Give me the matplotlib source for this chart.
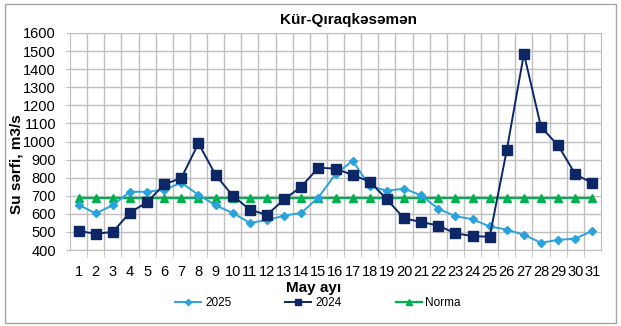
import matplotlib.pyplot as plt
import numpy as np

plt.rcParams['font.family'] = ['Liberation Sans', 'DejaVu Sans']

days = list(range(1, 32))
flow_2025 = [650, 602, 648, 722, 722, 733, 772, 705, 647, 605, 550, 565, 590, 605, 690,
             820, 893, 755, 727, 740, 702, 628, 587, 570, 530, 513, 484, 440, 456, 463, 506]
flow_2024 = [505, 490, 500, 607, 664, 763, 798, 990, 815, 700, 623, 594, 680, 750, 855,
             850, 815, 778, 680, 575, 555, 535, 492, 477, 473, 953, 1485, 1080, 978, 819, 770]
norma = [685] * 31
y_ticks = list(range(400, 1700, 100))

W, H = 621, 326
fig = plt.figure(figsize=(W / 100, H / 100), dpi=100)

# outer frame around the whole chart
fig.patches.append(plt.Rectangle((5 / W, 3 / H), 611 / W, 319 / H, transform=fig.transFigure,
                                 fill=False, edgecolor='#A6A6A6', linewidth=1))

ax = fig.add_axes([70 / W, (H - 250) / H, 531 / W, 217 / H])

grid_c = '#BFBFBF'
ax.plot(days, norma, color='#00B050', marker='^', markersize=6, linewidth=1.6, label='Norma', zorder=3)
ax.plot(days, flow_2025, color='#2AA3DD', marker='D', markersize=4.5, linewidth=1.4, label='2025', zorder=4)
ax.plot(days, flow_2024, color='#0D2766', marker='s', markersize=6.5, linewidth=1.4, label='2024', zorder=5)

ax.set_xlim(0.5, 31.5)
ax.set_ylim(400, 1600)
ax.set_yticks(y_ticks)
ax.set_xticks(days)
ax.set_xticklabels([str(d) for d in days])
ax.set_xticks(np.arange(1.5, 31, 1), minor=True)

ax.grid(True, axis='y', color=grid_c, linewidth=1)
ax.grid(True, axis='x', which='minor', color=grid_c, linewidth=1)
ax.set_axisbelow(True)

ax.tick_params(axis='x', which='major', length=0, pad=11, labelsize=10.5)
ax.tick_params(axis='x', which='minor', length=5, color=grid_c, direction='out')
ax.tick_params(axis='y', length=3, color=grid_c, pad=7, labelsize=10.5)

for side in ['left', 'bottom', 'right']:
    ax.spines[side].set_color(grid_c)
ax.spines['top'].set_visible(False)

fig.text(348 / W, (H - 20) / H, 'Kür-Qıraqkəsəmən', ha='center', va='center',
         fontsize=11, fontweight='bold')
fig.text(17 / W, (H - 164) / H, 'Su sərfi, m3/s', rotation=90, ha='center', va='center',
         fontsize=11, fontweight='bold')
fig.text(314 / W, (H - 288) / H, 'May ayı', ha='center', va='center',
         fontsize=11, fontweight='bold')

handles, labels = ax.get_legend_handles_labels()
order = [1, 2, 0]
fig.legend([handles[i] for i in order], [labels[i] for i in order],
           loc='center', bbox_to_anchor=(318 / W, (H - 303) / H), ncol=3, frameon=False,
           fontsize=8.5, handlelength=2.2, handletextpad=0.3, columnspacing=4.6,
           markerscale=0.7)

fig.savefig('out.png', dpi=100)
